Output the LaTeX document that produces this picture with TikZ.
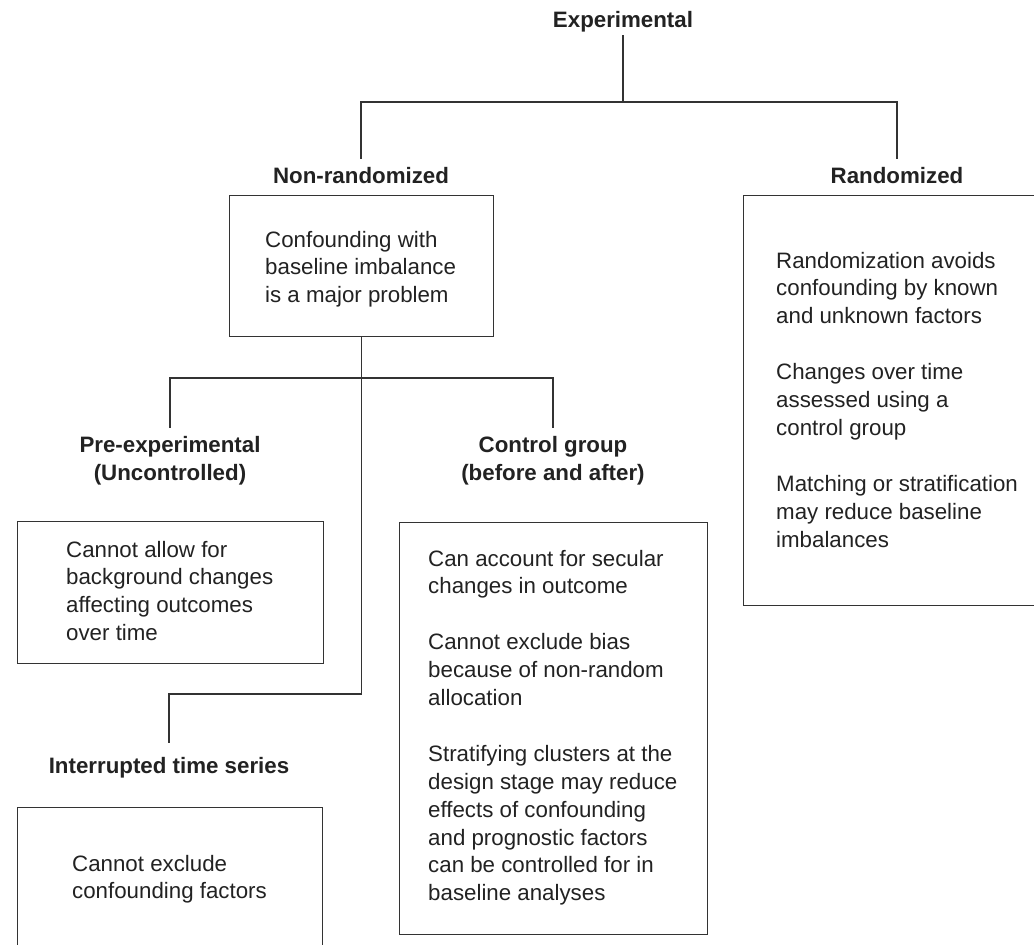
\documentclass[tikz,border=0pt]{standalone}
\usepackage{fontspec}
\setmainfont{Liberation Sans}
\definecolor{txt}{HTML}{222222}
\definecolor{ln}{HTML}{333333}
\begin{document}
\begin{tikzpicture}[x=1pt,y=-1pt,
  ttl/.style={font=\fontsize{22.3}{28}\selectfont\bfseries, text=txt, inner xsep=0pt, inner ysep=8pt, text height=16pt, anchor=base},
  ttlone/.style={ttl, text depth=0pt},
  body/.style={font=\fontsize{22.3}{27.9}\selectfont, text=txt, inner sep=0pt, anchor=base west},
  boxx/.style={draw=ln, line width=1.3pt, inner sep=0pt, anchor=north west},
  conn/.style={draw=ln, line width=1.3pt},
]
\fill[white] (0,0) rectangle (1034,945);
\useasboundingbox (0,0) rectangle (1034,945);
\clip (0,0) rectangle (1034,945);

% titles
\node[ttlone] (exp) at (623,27) {Experimental};
\node[ttlone] (nonrand) at (361,183) {Non-randomized};
\node[ttlone] (rand) at (897,183) {Randomized};
\node[ttl] (pre) at (170,452) {\parbox[t]{260pt}{\centering Pre-experimental\\(Uncontrolled)}};
\node[ttl] (ctrl) at (553,452) {\parbox[t]{260pt}{\centering Control group\\(before and after)}};
\node[ttlone, inner ysep=14pt] (its) at (169,773) {Interrupted time series};

% boxes
\node[boxx, minimum width=264pt, minimum height=141pt] (nrbox) at (229,195) {};
\node[boxx, minimum width=302pt, minimum height=410pt] (rbox) at (743,195) {};
\node[boxx, minimum width=306pt, minimum height=142pt] (prebox) at (17,521) {};
\node[boxx, minimum width=308pt, minimum height=412pt] (cbox) at (399,522) {};
\node[boxx, minimum width=305pt, minimum height=160pt] (itsbox) at (17,807) {};

% box texts
\node[body] (nrtext) at (265,247) {\parbox[t]{420pt}{Confounding with\\baseline imbalance\\is a major problem}};
\node[body] (rtext) at (776,268) {\parbox[t]{420pt}{Randomization avoids\\confounding by known\\and unknown factors\\[27.9pt]Changes over time\\assessed using a\\control group\\[27.9pt]Matching or stratification\\may reduce baseline\\imbalances}};
\node[body] (pretext) at (66,557) {\parbox[t]{420pt}{Cannot allow for\\background changes\\affecting outcomes\\over time}};
\node[body] (ctext) at (428,566) {\parbox[t]{420pt}{Can account for secular\\changes in outcome\\[27.9pt]Cannot exclude bias\\because of non-random\\allocation\\[27.9pt]Stratifying clusters at the\\design stage may reduce\\effects of confounding\\and prognostic factors\\can be controlled for in\\baseline analyses}};
\node[body] (itstext) at (72,871) {\parbox[t]{420pt}{Cannot exclude\\confounding factors}};

% junction levels
\coordinate (top) at (0,102);
\coordinate (mid) at (0,378);
\coordinate (low) at (0,694);

% connectors
\draw[conn] (exp.south) -- (exp.south |- top);
\draw[conn] (nonrand.north) -- (nonrand.north |- top) -- (rand.north |- top) -- (rand.north);
\draw[conn] (nrbox.south) -- (nrbox.south |- low) -| (its.north);
\draw[conn] (pre.north) -- (pre.north |- mid) -- (ctrl.north |- mid) -- (ctrl.north);
\end{tikzpicture}
\end{document}
